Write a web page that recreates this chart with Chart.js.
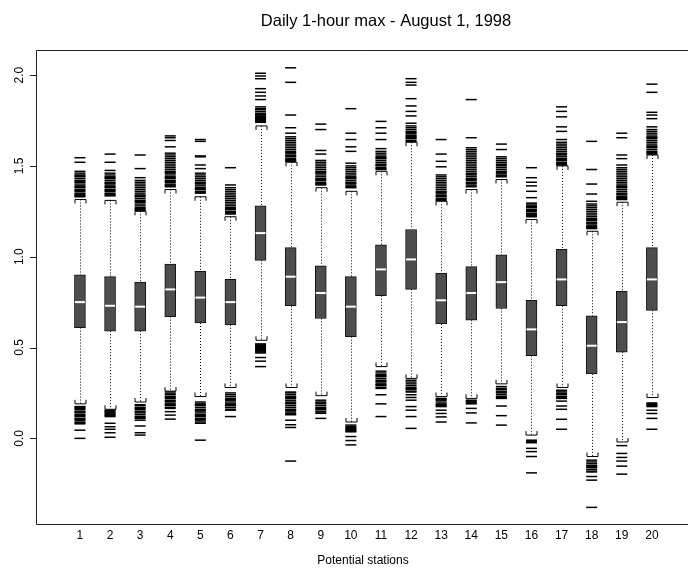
<!DOCTYPE html>
<html>

<head>
    <meta charset="utf-8">
    <title>Daily 1-hour max</title>
    <script src="https://cdn.jsdelivr.net/npm/chart.js"></script>
    <style>
        body {
            margin: 0;
            background: #fff;
        }
    </style>
</head>

<body>
    <canvas id="station-box-chart" width="688" height="570"></canvas>
    <script>
        const stations = [1, 2, 3, 4, 5, 6, 7, 8, 9, 10, 11, 12, 13, 14, 15, 16, 17, 18, 19, 20];
        const yTicks = [0, 0.5, 1, 1.5, 2];

        const lowerQuartile = [0.61, 0.59, 0.59, 0.67, 0.635, 0.625, 0.98, 0.73, 0.66, 0.56, 0.785, 0.82, 0.63, 0.65, 0.715, 0.455, 0.73, 0.355, 0.475, 0.705];
        const medians = [0.75, 0.73, 0.725, 0.82, 0.775, 0.75, 1.13, 0.89, 0.80, 0.725, 0.93, 0.985, 0.76, 0.80, 0.86, 0.60, 0.875, 0.51, 0.64, 0.875];
        const upperQuartile = [0.90, 0.89, 0.86, 0.96, 0.92, 0.875, 1.28, 1.05, 0.95, 0.89, 1.065, 1.15, 0.91, 0.945, 1.01, 0.76, 1.04, 0.675, 0.81, 1.05];
        const whiskerLow = [0.19, 0.16, 0.20, 0.26, 0.23, 0.28, 0.54, 0.28, 0.235, 0.09, 0.395, 0.33, 0.23, 0.22, 0.30, 0.018, 0.28, -0.10, -0.02, 0.225];
        const whiskerHigh = [1.315, 1.31, 1.25, 1.37, 1.33, 1.22, 1.72, 1.52, 1.38, 1.36, 1.47, 1.63, 1.305, 1.37, 1.425, 1.205, 1.50, 1.14, 1.30, 1.56];

        // outlying daily maxima per station, below and above the whiskers
        const outliers = [
            [0.0, 0.045, 0.08, 0.085, 0.09, 0.10, 0.105, 0.11, 0.12, 0.125, 0.13, 0.14, 0.145, 0.15, 0.16, 0.165, 0.17, 0.175,
                1.33, 1.335, 1.34, 1.345, 1.35, 1.36, 1.365, 1.37, 1.38, 1.385, 1.39, 1.40, 1.41, 1.415, 1.42, 1.43, 1.44, 1.445, 1.45, 1.46, 1.47, 1.52, 1.545],
            [0.006, 0.031, 0.05, 0.064, 0.083, 0.12, 0.125, 0.13, 0.135, 0.14, 0.145, 0.15, 0.155,
                1.335, 1.34, 1.345, 1.35, 1.36, 1.365, 1.37, 1.38, 1.385, 1.39, 1.40, 1.405, 1.41, 1.42, 1.43, 1.435, 1.44, 1.45, 1.46, 1.475, 1.52, 1.565],
            [0.018, 0.031, 0.068, 0.10, 0.11, 0.115, 0.12, 0.13, 0.14, 0.145, 0.15, 0.16, 0.165, 0.17, 0.18, 0.185,
                1.255, 1.26, 1.265, 1.27, 1.28, 1.29, 1.30, 1.305, 1.31, 1.32, 1.33, 1.335, 1.34, 1.35, 1.36, 1.37, 1.38, 1.39, 1.40, 1.41, 1.42, 1.435, 1.485, 1.56],
            [0.106, 0.128, 0.147, 0.165, 0.17, 0.18, 0.185, 0.19, 0.20, 0.205, 0.21, 0.22, 0.225, 0.23, 0.24, 0.245, 0.255,
                1.385, 1.39, 1.395, 1.40, 1.41, 1.415, 1.42, 1.43, 1.435, 1.44, 1.45, 1.46, 1.465, 1.47, 1.48, 1.49, 1.50, 1.51, 1.52, 1.53, 1.54, 1.55, 1.56, 1.57, 1.605, 1.64, 1.655, 1.665],
            [-0.01, 0.083, 0.09, 0.10, 0.105, 0.11, 0.12, 0.125, 0.13, 0.14, 0.15, 0.155, 0.16, 0.17, 0.18, 0.185, 0.19, 0.20,
                1.35, 1.355, 1.36, 1.37, 1.375, 1.38, 1.39, 1.40, 1.405, 1.41, 1.42, 1.43, 1.44, 1.45, 1.46, 1.485, 1.505, 1.55, 1.555, 1.635, 1.645],
            [0.12, 0.155, 0.16, 0.17, 0.18, 0.185, 0.19, 0.20, 0.21, 0.215, 0.22, 0.23, 0.24, 0.25,
                1.235, 1.24, 1.245, 1.25, 1.26, 1.265, 1.27, 1.28, 1.29, 1.30, 1.31, 1.32, 1.33, 1.34, 1.35, 1.36, 1.37, 1.38, 1.395, 1.49],
            [0.395, 0.425, 0.445, 0.47, 0.475, 0.48, 0.485, 0.49, 0.495, 0.50, 0.505, 0.51, 0.515, 0.52,
                1.74, 1.745, 1.75, 1.755, 1.76, 1.765, 1.77, 1.775, 1.78, 1.785, 1.79, 1.80, 1.81, 1.815, 1.825, 1.865, 1.885, 1.905, 1.925, 1.98, 1.995, 2.01],
            [-0.125, 0.06, 0.075, 0.10, 0.13, 0.135, 0.14, 0.15, 0.155, 0.16, 0.17, 0.18, 0.19, 0.195, 0.20, 0.21, 0.22, 0.225, 0.23, 0.24, 0.25, 0.255,
                1.525, 1.53, 1.535, 1.54, 1.55, 1.555, 1.56, 1.57, 1.575, 1.58, 1.59, 1.60, 1.61, 1.62, 1.63, 1.64, 1.65, 1.66, 1.68, 1.71, 1.78, 1.96, 2.04],
            [0.11, 0.138, 0.145, 0.15, 0.16, 0.165, 0.17, 0.18, 0.19, 0.195, 0.20, 0.21,
                1.395, 1.40, 1.405, 1.41, 1.42, 1.425, 1.43, 1.44, 1.45, 1.46, 1.465, 1.47, 1.48, 1.49, 1.50, 1.51, 1.52, 1.53, 1.565, 1.585, 1.70, 1.73],
            [-0.036, -0.012, 0.01, 0.036, 0.04, 0.045, 0.05, 0.055, 0.06, 0.065, 0.073,
                1.38, 1.385, 1.39, 1.40, 1.405, 1.41, 1.42, 1.43, 1.435, 1.44, 1.45, 1.46, 1.47, 1.48, 1.49, 1.50, 1.515, 1.58, 1.605, 1.645, 1.68, 1.815],
            [0.12, 0.19, 0.24, 0.275, 0.28, 0.29, 0.295, 0.30, 0.31, 0.315, 0.32, 0.33, 0.34, 0.345, 0.35, 0.36, 0.37,
                1.48, 1.485, 1.49, 1.50, 1.505, 1.51, 1.52, 1.53, 1.54, 1.545, 1.55, 1.56, 1.57, 1.58, 1.595, 1.645, 1.68, 1.71, 1.745],
            [0.055, 0.12, 0.155, 0.175, 0.21, 0.225, 0.24, 0.255, 0.26, 0.27, 0.275, 0.28, 0.29, 0.30, 0.31, 0.32,
                1.635, 1.64, 1.65, 1.655, 1.66, 1.665, 1.67, 1.68, 1.685, 1.69, 1.70, 1.71, 1.72, 1.735, 1.775, 1.80, 1.83, 1.87, 1.945, 1.96, 1.98],
            [0.09, 0.118, 0.137, 0.155, 0.175, 0.18, 0.185, 0.19, 0.20, 0.21, 0.215, 0.22,
                1.31, 1.315, 1.32, 1.33, 1.335, 1.34, 1.35, 1.355, 1.36, 1.37, 1.38, 1.39, 1.40, 1.41, 1.42, 1.43, 1.44, 1.45, 1.495, 1.525, 1.565, 1.645],
            [0.085, 0.14, 0.165, 0.19, 0.195, 0.20, 0.205, 0.21,
                1.385, 1.39, 1.40, 1.405, 1.41, 1.42, 1.425, 1.43, 1.44, 1.45, 1.455, 1.46, 1.47, 1.48, 1.49, 1.50, 1.51, 1.52, 1.53, 1.54, 1.55, 1.56, 1.57, 1.58, 1.59, 1.60, 1.655, 1.865],
            [0.073, 0.125, 0.178, 0.22, 0.225, 0.23, 0.24, 0.25, 0.255, 0.26, 0.27, 0.275, 0.285,
                1.44, 1.445, 1.45, 1.46, 1.465, 1.47, 1.48, 1.49, 1.50, 1.505, 1.51, 1.52, 1.53, 1.54, 1.55, 1.59, 1.62],
            [-0.19, -0.10, -0.073, -0.055, -0.024, -0.02, -0.015, -0.01,
                1.22, 1.225, 1.23, 1.235, 1.24, 1.25, 1.255, 1.26, 1.27, 1.275, 1.28, 1.29, 1.295, 1.325, 1.36, 1.39, 1.41, 1.435, 1.49],
            [0.05, 0.105, 0.16, 0.178, 0.205, 0.22, 0.225, 0.23, 0.24, 0.245, 0.25, 0.26, 0.265,
                1.505, 1.51, 1.515, 1.52, 1.53, 1.535, 1.54, 1.55, 1.56, 1.565, 1.57, 1.58, 1.59, 1.60, 1.61, 1.62, 1.63, 1.645, 1.69, 1.715, 1.77, 1.80, 1.825],
            [-0.38, -0.23, -0.21, -0.185, -0.18, -0.17, -0.16, -0.155, -0.15, -0.14, -0.13, -0.12,
                1.155, 1.16, 1.165, 1.17, 1.18, 1.185, 1.19, 1.20, 1.205, 1.21, 1.22, 1.23, 1.24, 1.25, 1.26, 1.27, 1.28, 1.29, 1.305, 1.345, 1.40, 1.48, 1.635],
            [-0.197, -0.153, -0.125, -0.105, -0.083, -0.04,
                1.315, 1.32, 1.325, 1.33, 1.34, 1.345, 1.35, 1.36, 1.37, 1.38, 1.385, 1.39, 1.40, 1.41, 1.42, 1.43, 1.44, 1.45, 1.46, 1.47, 1.48, 1.49, 1.505, 1.54, 1.56, 1.655, 1.68],
            [0.05, 0.11, 0.137, 0.155, 0.175, 0.18, 0.185, 0.19, 0.195,
                1.565, 1.57, 1.575, 1.58, 1.59, 1.60, 1.605, 1.61, 1.62, 1.63, 1.64, 1.65, 1.655, 1.66, 1.67, 1.68, 1.69, 1.70, 1.715, 1.76, 1.78, 1.795, 1.905, 1.95]
        ];

        const FONT = '"Liberation Sans", Arial, Helvetica, sans-serif';
        const BOX_HALF = 5.5;

        const outlierPoints = [];
        outliers.forEach((vals, i) => {
            vals.forEach(v => outlierPoints.push({ x: stations[i], y: v }));
        });

        // dotted whiskers with small bracket staples, drawn under the boxes
        const whiskerPlugin = {
            id: 'whiskers',
            beforeDatasetsDraw(chart) {
                const { ctx, scales: { x, y } } = chart;
                ctx.save();
                ctx.strokeStyle = '#000';
                ctx.lineWidth = 1;
                stations.forEach((s, i) => {
                    const px = Math.round(x.getPixelForValue(s)) + 0.5;
                    const lo = y.getPixelForValue(whiskerLow[i]);
                    const hi = y.getPixelForValue(whiskerHigh[i]);
                    ctx.setLineDash([1, 2]);
                    ctx.beginPath();
                    ctx.moveTo(px, hi);
                    ctx.lineTo(px, y.getPixelForValue(upperQuartile[i]));
                    ctx.moveTo(px, y.getPixelForValue(lowerQuartile[i]));
                    ctx.lineTo(px, lo);
                    ctx.stroke();
                    ctx.setLineDash([]);
                    ctx.beginPath();
                    ctx.moveTo(px - BOX_HALF, hi + 4);
                    ctx.lineTo(px - BOX_HALF, hi);
                    ctx.lineTo(px + BOX_HALF, hi);
                    ctx.lineTo(px + BOX_HALF, hi + 4);
                    ctx.moveTo(px - BOX_HALF, lo - 4);
                    ctx.lineTo(px - BOX_HALF, lo);
                    ctx.lineTo(px + BOX_HALF, lo);
                    ctx.lineTo(px + BOX_HALF, lo - 4);
                    ctx.stroke();
                });
                ctx.restore();
            }
        };

        // frame, y ticks, axis labels and title
        const framePlugin = {
            id: 'frame',
            afterDraw(chart) {
                const { ctx, chartArea: area, scales: { x, y } } = chart;
                ctx.save();
                ctx.strokeStyle = '#222';
                ctx.lineWidth = 1;
                ctx.beginPath();
                ctx.moveTo(chart.width, area.top + 0.5);
                ctx.lineTo(area.left + 0.5, area.top + 0.5);
                ctx.lineTo(area.left + 0.5, area.bottom - 0.5);
                ctx.lineTo(chart.width, area.bottom - 0.5);
                yTicks.forEach(t => {
                    const py = Math.round(y.getPixelForValue(t)) + 0.5;
                    ctx.moveTo(area.left - 6, py);
                    ctx.lineTo(area.left, py);
                });
                ctx.stroke();

                ctx.fillStyle = '#000';
                ctx.font = '12px ' + FONT;
                ctx.textAlign = 'center';
                ctx.textBaseline = 'middle';
                yTicks.forEach(t => {
                    const py = y.getPixelForValue(t);
                    ctx.save();
                    ctx.translate(20, py);
                    ctx.rotate(-Math.PI / 2);
                    ctx.fillText(t.toFixed(1), 0, 0);
                    ctx.restore();
                });
                stations.forEach(s => {
                    ctx.fillText(String(s), x.getPixelForValue(s), 536);
                });
                ctx.fillText('Potential stations', 363, 561);
                ctx.font = '16.5px ' + FONT;
                ctx.fillText('Daily 1-hour max - August 1, 1998', 386, 21);
                ctx.restore();
            }
        };

        new Chart(document.getElementById('station-box-chart'), {
            type: 'bar',
            data: {
                datasets: [
                    {
                        type: 'bar',
                        data: stations.map((s, i) => ({ x: s, y: [lowerQuartile[i], upperQuartile[i]] })),
                        backgroundColor: '#4d4d4d',
                        borderColor: '#111',
                        borderWidth: 1,
                        borderSkipped: false,
                        barThickness: 11,
                        order: 3
                    },
                    {
                        type: 'scatter',
                        data: stations.map((s, i) => ({ x: s, y: medians[i] })),
                        pointStyle: 'line',
                        radius: 5,
                        borderColor: '#fff',
                        borderWidth: 2,
                        order: 2
                    },
                    {
                        type: 'scatter',
                        data: outlierPoints,
                        pointStyle: 'line',
                        radius: 5.5,
                        borderColor: '#000',
                        borderWidth: 1.5,
                        order: 1
                    }
                ]
            },
            options: {
                responsive: false,
                animation: false,
                layout: { autoPadding: false, padding: { left: 36, top: 50, right: 0, bottom: 45 } },
                scales: {
                    x: { type: 'linear', offset: false, min: -0.46, max: 21.2, display: false },
                    y: { type: 'linear', min: -0.477, max: 2.138, display: false }
                },
                plugins: {
                    legend: { display: false },
                    tooltip: { enabled: false }
                }
            },
            plugins: [whiskerPlugin, framePlugin]
        });
    </script>
</body>

</html>
